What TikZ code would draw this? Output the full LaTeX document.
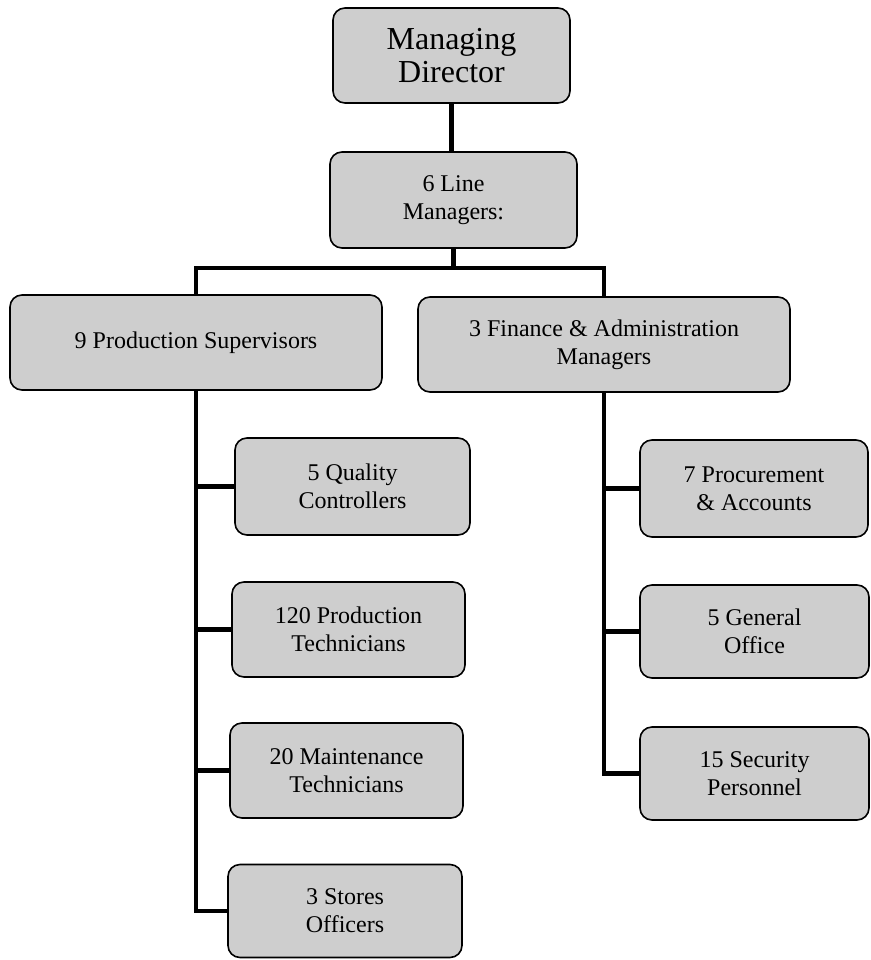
\documentclass[tikz,border=0pt]{standalone}
\usepackage{fontspec}
\setmainfont{Liberation Serif}
\definecolor{orgBoxGrey}{HTML}{CECECE}

\begin{document}
\begin{tikzpicture}[x=1pt, y=-1pt,
    post/.style={draw=black, line width=1.6pt, fill=orgBoxGrey, rounded corners=12pt,
      align=center, inner sep=0pt, font=\fontsize{24}{28}\selectfont},
    link/.style={line width=4.5pt}]
  \useasboundingbox (0,0) rectangle (870,960);

  % top of the chart
  \node[post, minimum width=237, minimum height=95, font=\fontsize{32}{33}\selectfont]
    (director) at (451.5,55.5) {Managing\\Director};
  \node[post, minimum width=247, minimum height=96] (linemgr) at (453.5,200) {6 Line\\Managers:};

  % two departments
  \node[post, minimum width=372, minimum height=95] (prodsup) at (196,342.5) {9 Production Supervisors};
  \node[post, minimum width=372, minimum height=95] (finadmin) at (604,344.5) {3 Finance \& Administration\\Managers};

  % production side
  \node[post, minimum width=235, minimum height=97] (quality) at (352.5,486.5) {5 Quality\\Controllers};
  \node[post, minimum width=233, minimum height=95] (prodtech) at (348.5,629.5) {120 Production\\Technicians};
  \node[post, minimum width=233, minimum height=95] (mainttech) at (346.5,770.5) {20 Maintenance\\Technicians};
  \node[post, minimum width=234, minimum height=93] (stores) at (345,911) {3 Stores\\Officers};

  % finance side
  \node[post, minimum width=228, minimum height=97] (procure) at (754,488.5) {7 Procurement\\\& Accounts};
  \node[post, minimum width=229, minimum height=93] (genoffice) at (754.5,631.5) {5 General\\Office};
  \node[post, minimum width=229, minimum height=93] (security) at (754.5,773.5) {15 Security\\Personnel};

  % connectors
  \draw[link] (director.south) -- (director.south |- linemgr.north);
  \draw[link] (linemgr.south) -- ++(0,19) coordinate (split);
  \draw[link] (prodsup.north) |- (split) -| (finadmin.north);

  \draw[link] (prodsup.south) |- (stores.west);
  \draw[link] (prodsup.south |- quality.west) -- (quality.west);
  \draw[link] (prodsup.south |- prodtech.west) -- (prodtech.west);
  \draw[link] (prodsup.south |- mainttech.west) -- (mainttech.west);

  \draw[link] (finadmin.south) |- (security.west);
  \draw[link] (finadmin.south |- procure.west) -- (procure.west);
  \draw[link] (finadmin.south |- genoffice.west) -- (genoffice.west);
\end{tikzpicture}
\end{document}
